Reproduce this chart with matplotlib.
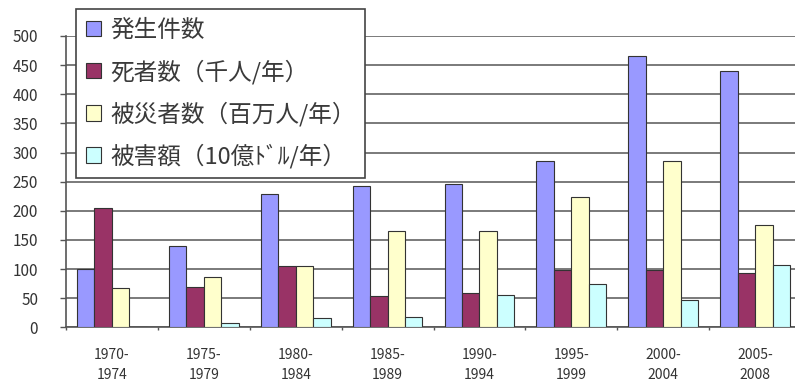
import numpy as np
import matplotlib
matplotlib.use('Agg')
import matplotlib.pyplot as plt

plt.rcParams['font.family'] = ['Noto Sans CJK JP', 'DejaVu Sans']

# Data
periods = ['1970-\n1974', '1975-\n1979', '1980-\n1984', '1985-\n1989',
           '1990-\n1994', '1995-\n1999', '2000-\n2004', '2005-\n2008']
events = [100, 140, 229, 242, 246, 286, 465, 440]
deaths = [205, 70, 106, 53, 59, 98, 98, 93]
affected = [68, 87, 106, 166, 166, 223, 286, 176]
damage = [0, 8, 16, 18, 56, 75, 47, 107]

labels = ['発生件数', '死者数（千人/年）', '被災者数（百万人/年）', '被害額（10億ﾄﾞﾙ/年）']
colors = ['#9999FF', '#993366', '#FFFFCC', '#CCFFFF']
series = [events, deaths, affected, damage]

fig = plt.figure(figsize=(7.95, 3.85), dpi=100)
ax = fig.add_axes([66 / 795, 57.7 / 385, (801 - 66) / 795, (327.3 - 36) / 385])

x = np.arange(len(periods))
w = 0.19
for i, (vals, c, lab) in enumerate(zip(series, colors, labels)):
    ax.bar(x + (i - 1.5) * w, vals, width=w, color=c, edgecolor='#333333',
           linewidth=0.8, label=lab, zorder=3)

ax.set_xlim(-0.5, len(periods) - 0.5)
ax.set_ylim(0, 500)
ax.set_yticks(range(0, 501, 50))
ax.yaxis.grid(True, color='#7a7a7a', linewidth=1.4, zorder=0)
ax.set_axisbelow(True)

ax.set_xticks(x)
ax.set_xticklabels(periods, fontsize=10, color='#333333', linespacing=1.55)
ax.set_xticks(np.arange(len(periods) + 1) - 0.5, minor=True)
ax.tick_params(axis='x', which='major', length=0, pad=15)
ax.tick_params(axis='x', which='minor', length=2, width=1, color='#555555')
ax.tick_params(axis='y', length=4, width=1, color='#555555', labelsize=11,
               labelcolor='#333333', pad=16)

for s in ['top', 'right']:
    ax.spines[s].set_visible(False)
for s in ['left', 'bottom']:
    ax.spines[s].set_color('#555555')
    ax.spines[s].set_linewidth(1.2)

leg = ax.legend(loc='upper left', bbox_to_anchor=(76 / 795, 1 - 9 / 385),
                bbox_transform=fig.transFigure, fontsize=17, frameon=True,
                fancybox=False, framealpha=1, edgecolor='#444444',
                handlelength=0.62, handleheight=0.62, handletextpad=0.4,
                labelspacing=0.74, borderpad=0.42, borderaxespad=0)
leg.get_frame().set_linewidth(1.2)
for t in leg.get_texts():
    t.set_color('#3a3a3a')

fig.savefig('out.png', dpi=100)
